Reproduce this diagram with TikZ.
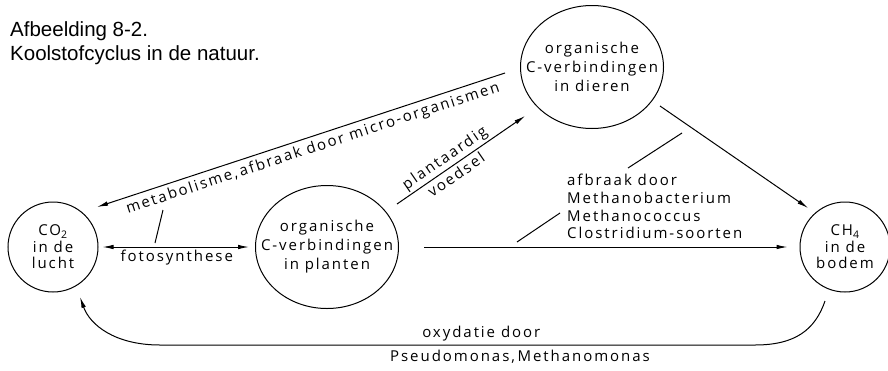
\documentclass[tikz,border=0pt]{standalone}
\usepackage{fontspec}
\newfontfamily\labfont{Open Sans}[LetterSpace=13]
\newfontfamily\ttlfont{Liberation Sans}
\usetikzlibrary{shapes.geometric,arrows.meta,calc}
\begin{document}
\begin{tikzpicture}[x=1pt,y=1pt,
  every node/.style={inner sep=0pt},
  lbl/.style={font=\labfont\fontsize{15}{18}\selectfont, align=center},
  ttl/.style={font=\ttlfont\fontsize{20.5}{24}\selectfont, anchor=base west},
  disc/.style={draw, circle, minimum size=90pt, line width=1pt},
  oval/.style={draw, ellipse, minimum width=143pt, minimum height=123pt, line width=1pt},
  conn/.style={line width=1pt},
  tip/.style={-{Latex[length=11pt,width=4.5pt]}},
  arr/.style={conn, tip},
  dbl/.style={conn, {Latex[length=11pt,width=4.5pt]}-{Latex[length=11pt,width=4.5pt]}},
]
\useasboundingbox (0,0) rectangle (888,-370);

% title
\node[ttl] (title1) at (10,-36) {Afbeelding 8-2.};
\node[ttl] (title2) at (10,-60) {Koolstofcyclus in de natuur.};

% reservoirs
\node[disc] (co2) at (53,-247) {};
\node[lbl, font=\labfont\fontsize{15}{16.5}\selectfont] (co2t) at (co2.center) {CO\textsubscript{2}\\in de\\lucht};
\node[oval] (plants) at (327,-247) {};
\node[lbl, font=\labfont\fontsize{15}{19}\selectfont] (plantst) at (plants.center) {organische\\C-verbindingen\\in planten};
\node[oval] (animals) at (592,-67) {};
\node[lbl, font=\labfont\fontsize{15}{19}\selectfont] (animalst) at (animals.center) {organische\\C-verbindingen\\in dieren};
\node[disc] (ch4) at (845,-247) {};
\node[lbl, font=\labfont\fontsize{15}{16.5}\selectfont] (ch4t) at (ch4.center) {CH\textsubscript{4}\\in de\\bodem};

% fotosynthese
\draw[dbl, shorten <=4pt, shorten >=6pt] (co2.east) -- node[lbl, below=3pt] (fotot) {fotosynthese} (plants.west);

% metabolisme
\coordinate (mA) at (505,-73);
\coordinate (mB) at (97,-207);
\draw[conn, {Latex[length=11pt,width=4.5pt]}-] (mB) -- node[lbl, sloped, below=4pt, pos=0.52] (metat) {metabolisme,\,afbraak door micro-organismen} (mA);
\coordinate (t1a) at (155,-243);
\coordinate (t1b) at (163,-210);
\draw[conn] (t1a) -- (t1b);

% plantaardig voedsel
\coordinate (pA) at (397,-204);
\coordinate (pB) at (525,-116);
\draw[arr] (pA) -- node[lbl, sloped, above=2pt, pos=0.42] (plt) {plantaardig} node[lbl, sloped, below=3pt, pos=0.42] (vt) {voedsel} (pB);

% plants -> CH4
\draw[arr, shorten <=25pt, shorten >=12pt] (plants.east) -- (ch4.west);

% animals -> CH4
\coordinate (aA) at (660,-106);
\coordinate (aB) at (808,-208);
\draw[arr] (aA) -- (aB);

% afbraak label
\node[lbl, align=left, anchor=west, font=\labfont\fontsize{15}{17.7}\selectfont] (afbr) at (567,-206.5) {afbraak door\\Methanobacterium\\Methanococcus\\Clostridium-soorten};
\coordinate (t2a) at (682,-133);
\coordinate (t2b) at (628,-168);
\draw[conn] (t2a) -- (t2b);
\coordinate (t3a) at (517,-242);
\coordinate (t3b) at (560,-213);
\draw[conn] (t3a) -- (t3b);

% oxydatie
\coordinate (bA) at (825,-301);
\coordinate (bB) at (80,-297);
\draw[arr] (bA) .. controls (815,-330) and (795,-345) .. (755,-345)
  -- node[lbl, above=3pt, pos=0.46] (oxt) {oxydatie door}
     node[lbl, below=5pt, pos=0.395] (pst) {Pseudomonas,\,Methanomonas} (160,-345)
  .. controls (115,-345) and (90,-325) .. (bB);
\end{tikzpicture}
\end{document}
